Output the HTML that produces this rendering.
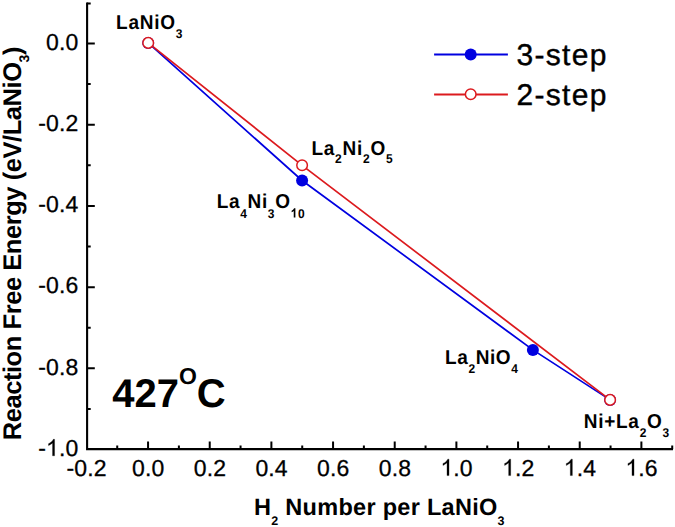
<!DOCTYPE html>
<html><head><meta charset="utf-8"><style>
html,body{margin:0;padding:0;background:#fff;}
svg{display:block;}
text{font-family:"Liberation Sans",sans-serif;fill:#000;text-rendering:geometricPrecision;}
.tk{font-size:23px;letter-spacing:0.1px;stroke:#000;stroke-width:0.3px;}
.lg{font-size:30px;stroke:#000;stroke-width:0.4px;}
.lb{font-weight:bold;}
.tc{font-weight:bold;}
.xt{font-weight:bold;}
.yt{font-weight:bold;}
</style></head><body>
<svg width="675" height="527" viewBox="0 0 675 527">
<rect width="675" height="527" fill="#fff"/>
<path d="M87.10 3.50V449.10H672.00" fill="none" stroke="#000" stroke-width="2.1" stroke-linecap="square"/>
<path d="M87.10 408.96H90.70M87.10 368.36H94.80M87.10 327.75H90.70M87.10 287.14H94.80M87.10 246.53H90.70M87.10 205.93H94.80M87.10 165.32H90.70M87.10 124.71H94.80M87.10 84.11H90.70M87.10 43.50H94.80M87.10 3.50H90.70M117.23 449.10V445.50M148.06 449.10V441.40M178.89 449.10V445.50M209.73 449.10V441.40M240.56 449.10V445.50M271.39 449.10V441.40M302.23 449.10V445.50M333.06 449.10V441.40M363.89 449.10V445.50M394.72 449.10V441.40M425.56 449.10V445.50M456.39 449.10V441.40M487.22 449.10V445.50M518.06 449.10V441.40M548.89 449.10V445.50M579.72 449.10V441.40M610.56 449.10V445.50M641.39 449.10V441.40M672.22 449.10V445.50" fill="none" stroke="#000" stroke-width="2"/>
<text x="78.30" y="49.70" text-anchor="end" class="tk">0.0</text>
<text x="78.30" y="130.91" text-anchor="end" class="tk">-0.2</text>
<text x="78.30" y="212.13" text-anchor="end" class="tk">-0.4</text>
<text x="78.30" y="293.34" text-anchor="end" class="tk">-0.6</text>
<text x="78.30" y="374.56" text-anchor="end" class="tk">-0.8</text>
<text x="78.30" y="455.77" text-anchor="end" class="tk">-&#x2007;.0</text>
<text x="86.59" y="475.60" text-anchor="middle" class="tk">-0.2</text>
<text x="148.26" y="475.60" text-anchor="middle" class="tk">0.0</text>
<text x="209.93" y="475.60" text-anchor="middle" class="tk">0.2</text>
<text x="271.59" y="475.60" text-anchor="middle" class="tk">0.4</text>
<text x="333.26" y="475.60" text-anchor="middle" class="tk">0.6</text>
<text x="394.92" y="475.60" text-anchor="middle" class="tk">0.8</text>
<text x="456.59" y="475.60" text-anchor="middle" class="tk">&#x2007;.0</text>
<text x="518.26" y="475.60" text-anchor="middle" class="tk">&#x2007;.2</text>
<text x="579.92" y="475.60" text-anchor="middle" class="tk">&#x2007;.4</text>
<text x="641.59" y="475.60" text-anchor="middle" class="tk">&#x2007;.6</text>
<polyline points="148.2,42.9 302.1,180.5 532.9,349.9 610.1,399.9" fill="none" stroke="#0000e0" stroke-width="1.7"/>
<circle cx="148.2" cy="42.9" r="6" fill="#0000e0"/>
<circle cx="302.1" cy="180.5" r="6" fill="#0000e0"/>
<circle cx="532.9" cy="349.9" r="6" fill="#0000e0"/>
<circle cx="610.1" cy="399.9" r="6" fill="#0000e0"/>
<polyline points="148.2,42.9 302.1,165.3 610.1,399.9" fill="none" stroke="#dc1a1e" stroke-width="1.7"/>
<circle cx="148.2" cy="42.9" r="5.3" fill="#fff" stroke="#dc1a1e" stroke-width="1.5"/>
<circle cx="302.1" cy="165.3" r="5.3" fill="#fff" stroke="#dc1a1e" stroke-width="1.5"/>
<circle cx="610.1" cy="399.9" r="5.3" fill="#fff" stroke="#dc1a1e" stroke-width="1.5"/>
<line x1="434.1" y1="54.6" x2="507.9" y2="54.6" stroke="#0000e0" stroke-width="2"/>
<circle cx="470.7" cy="54.4" r="6" fill="#0000e0"/>
<line x1="434.1" y1="94.4" x2="507.9" y2="94.4" stroke="#dc1a1e" stroke-width="2"/>
<circle cx="470.7" cy="94.3" r="5.3" fill="#fff" stroke="#dc1a1e" stroke-width="1.5"/>
<text x="516.40" y="65.40" class="lg" style="letter-spacing:1.33px">3-step</text>
<text x="516.40" y="104.80" class="lg" style="letter-spacing:1.33px">2-step</text>
<g transform="translate(116.00,28.80) scale(1,1.06)"><text x="0" y="0" class="lb" style="font-size:19px;letter-spacing:0.77px"><tspan dy="-0.00">LaNiO</tspan><tspan dy="8.40" style="font-size:12px">3</tspan></text></g>
<g transform="translate(311.40,154.50) scale(1,1.06)"><text x="0" y="0" class="lb" style="font-size:19px;letter-spacing:0.74px"><tspan dy="-0.00">La</tspan><tspan dy="7.74" style="font-size:12px">2</tspan><tspan dy="-7.74">Ni</tspan><tspan dy="7.74" style="font-size:12px">2</tspan><tspan dy="-7.74">O</tspan><tspan dy="7.74" style="font-size:12px">5</tspan></text></g>
<g transform="translate(216.70,208.20) scale(1,1.06)"><text x="0" y="0" class="lb" style="font-size:19px;letter-spacing:0.66px"><tspan dy="-0.00">La</tspan><tspan dy="8.77" style="font-size:12px">4</tspan><tspan dy="-8.77">Ni</tspan><tspan dy="8.77" style="font-size:12px">3</tspan><tspan dy="-8.77">O</tspan><tspan dy="8.77" style="font-size:12px">&#x2007;0</tspan></text></g>
<g transform="translate(445.00,363.90) scale(1,1.06)"><text x="0" y="0" class="lb" style="font-size:19px;letter-spacing:0.6px"><tspan dy="-0.00">La</tspan><tspan dy="8.96" style="font-size:12px">2</tspan><tspan dy="-8.96">NiO</tspan><tspan dy="8.96" style="font-size:12px">4</tspan></text></g>
<g transform="translate(583.70,428.00) scale(1,1.06)"><text x="0" y="0" class="lb" style="font-size:19px;letter-spacing:0.74px"><tspan dy="-0.00">Ni+La</tspan><tspan dy="8.49" style="font-size:12px">2</tspan><tspan dy="-8.49">O</tspan><tspan dy="8.49" style="font-size:12px">3</tspan></text></g>
<text x="112.20" y="407.30" class="tc" style="font-size:40px;letter-spacing:0px">427<tspan dy="-23.00" style="font-size:23px">O</tspan><tspan dy="23.00" dx="0.00">C</tspan></text>
<text x="254.00" y="515.00" class="xt" style="font-size:23.5px;letter-spacing:0.29px" ><tspan dy="-0.00">H</tspan><tspan dy="9.50" style="font-size:12.5px">2</tspan><tspan dy="-9.50">&#160;Number&#160;per&#160;LaNiO</tspan><tspan dy="9.50" style="font-size:12.5px">3</tspan></text>
<g transform="translate(20.70,440.30) rotate(-90)"><text x="0.00" y="0.00" class="yt" style="font-size:25.5px;letter-spacing:-0.44px" ><tspan dy="-0.00">Reaction&#160;Free&#160;Energy&#160;(eV/LaNiO</tspan><tspan dy="8.00" style="font-size:14px">3</tspan><tspan dy="-8.00">)</tspan></text></g>
<path d="M763 0L583 0L583 1147Q518 1085 432 1022Q346 959 223 904L223 1078Q349 1137 454 1222Q559 1307 606 1390Q630 1432 646 1466L763 1466Z" stroke="#000" stroke-width="26.7" transform="matrix(1.00000 0.00000 0.00000 1.00000 0.000 0.000) translate(46.003 455.770) scale(0.011230 -0.011230)"/>
<path d="M763 0L583 0L583 1147Q518 1085 432 1022Q346 959 223 904L223 1078Q349 1137 454 1222Q559 1307 606 1390Q630 1432 646 1466L763 1466Z" stroke="#000" stroke-width="26.7" transform="matrix(1.00000 0.00000 0.00000 1.00000 0.000 0.000) translate(440.449 475.600) scale(0.011230 -0.011230)"/>
<path d="M763 0L583 0L583 1147Q518 1085 432 1022Q346 959 223 904L223 1078Q349 1137 454 1222Q559 1307 606 1390Q630 1432 646 1466L763 1466Z" stroke="#000" stroke-width="26.7" transform="matrix(1.00000 0.00000 0.00000 1.00000 0.000 0.000) translate(502.119 475.600) scale(0.011230 -0.011230)"/>
<path d="M763 0L583 0L583 1147Q518 1085 432 1022Q346 959 223 904L223 1078Q349 1137 454 1222Q559 1307 606 1390Q630 1432 646 1466L763 1466Z" stroke="#000" stroke-width="26.7" transform="matrix(1.00000 0.00000 0.00000 1.00000 0.000 0.000) translate(563.779 475.600) scale(0.011230 -0.011230)"/>
<path d="M763 0L583 0L583 1147Q518 1085 432 1022Q346 959 223 904L223 1078Q349 1137 454 1222Q559 1307 606 1390Q630 1432 646 1466L763 1466Z" stroke="#000" stroke-width="26.7" transform="matrix(1.00000 0.00000 0.00000 1.00000 0.000 0.000) translate(625.449 475.600) scale(0.011230 -0.011230)"/>
<path d="M806 0L525 0L525 1059Q371 915 162 846L162 1101Q272 1137 401 1238Q530 1339 578 1484L806 1484Z" transform="matrix(1.00000 0.00000 0.00000 1.06000 216.700 208.200) translate(73.969 8.770) scale(0.005859 -0.005859)"/>
</svg>
</body></html>
